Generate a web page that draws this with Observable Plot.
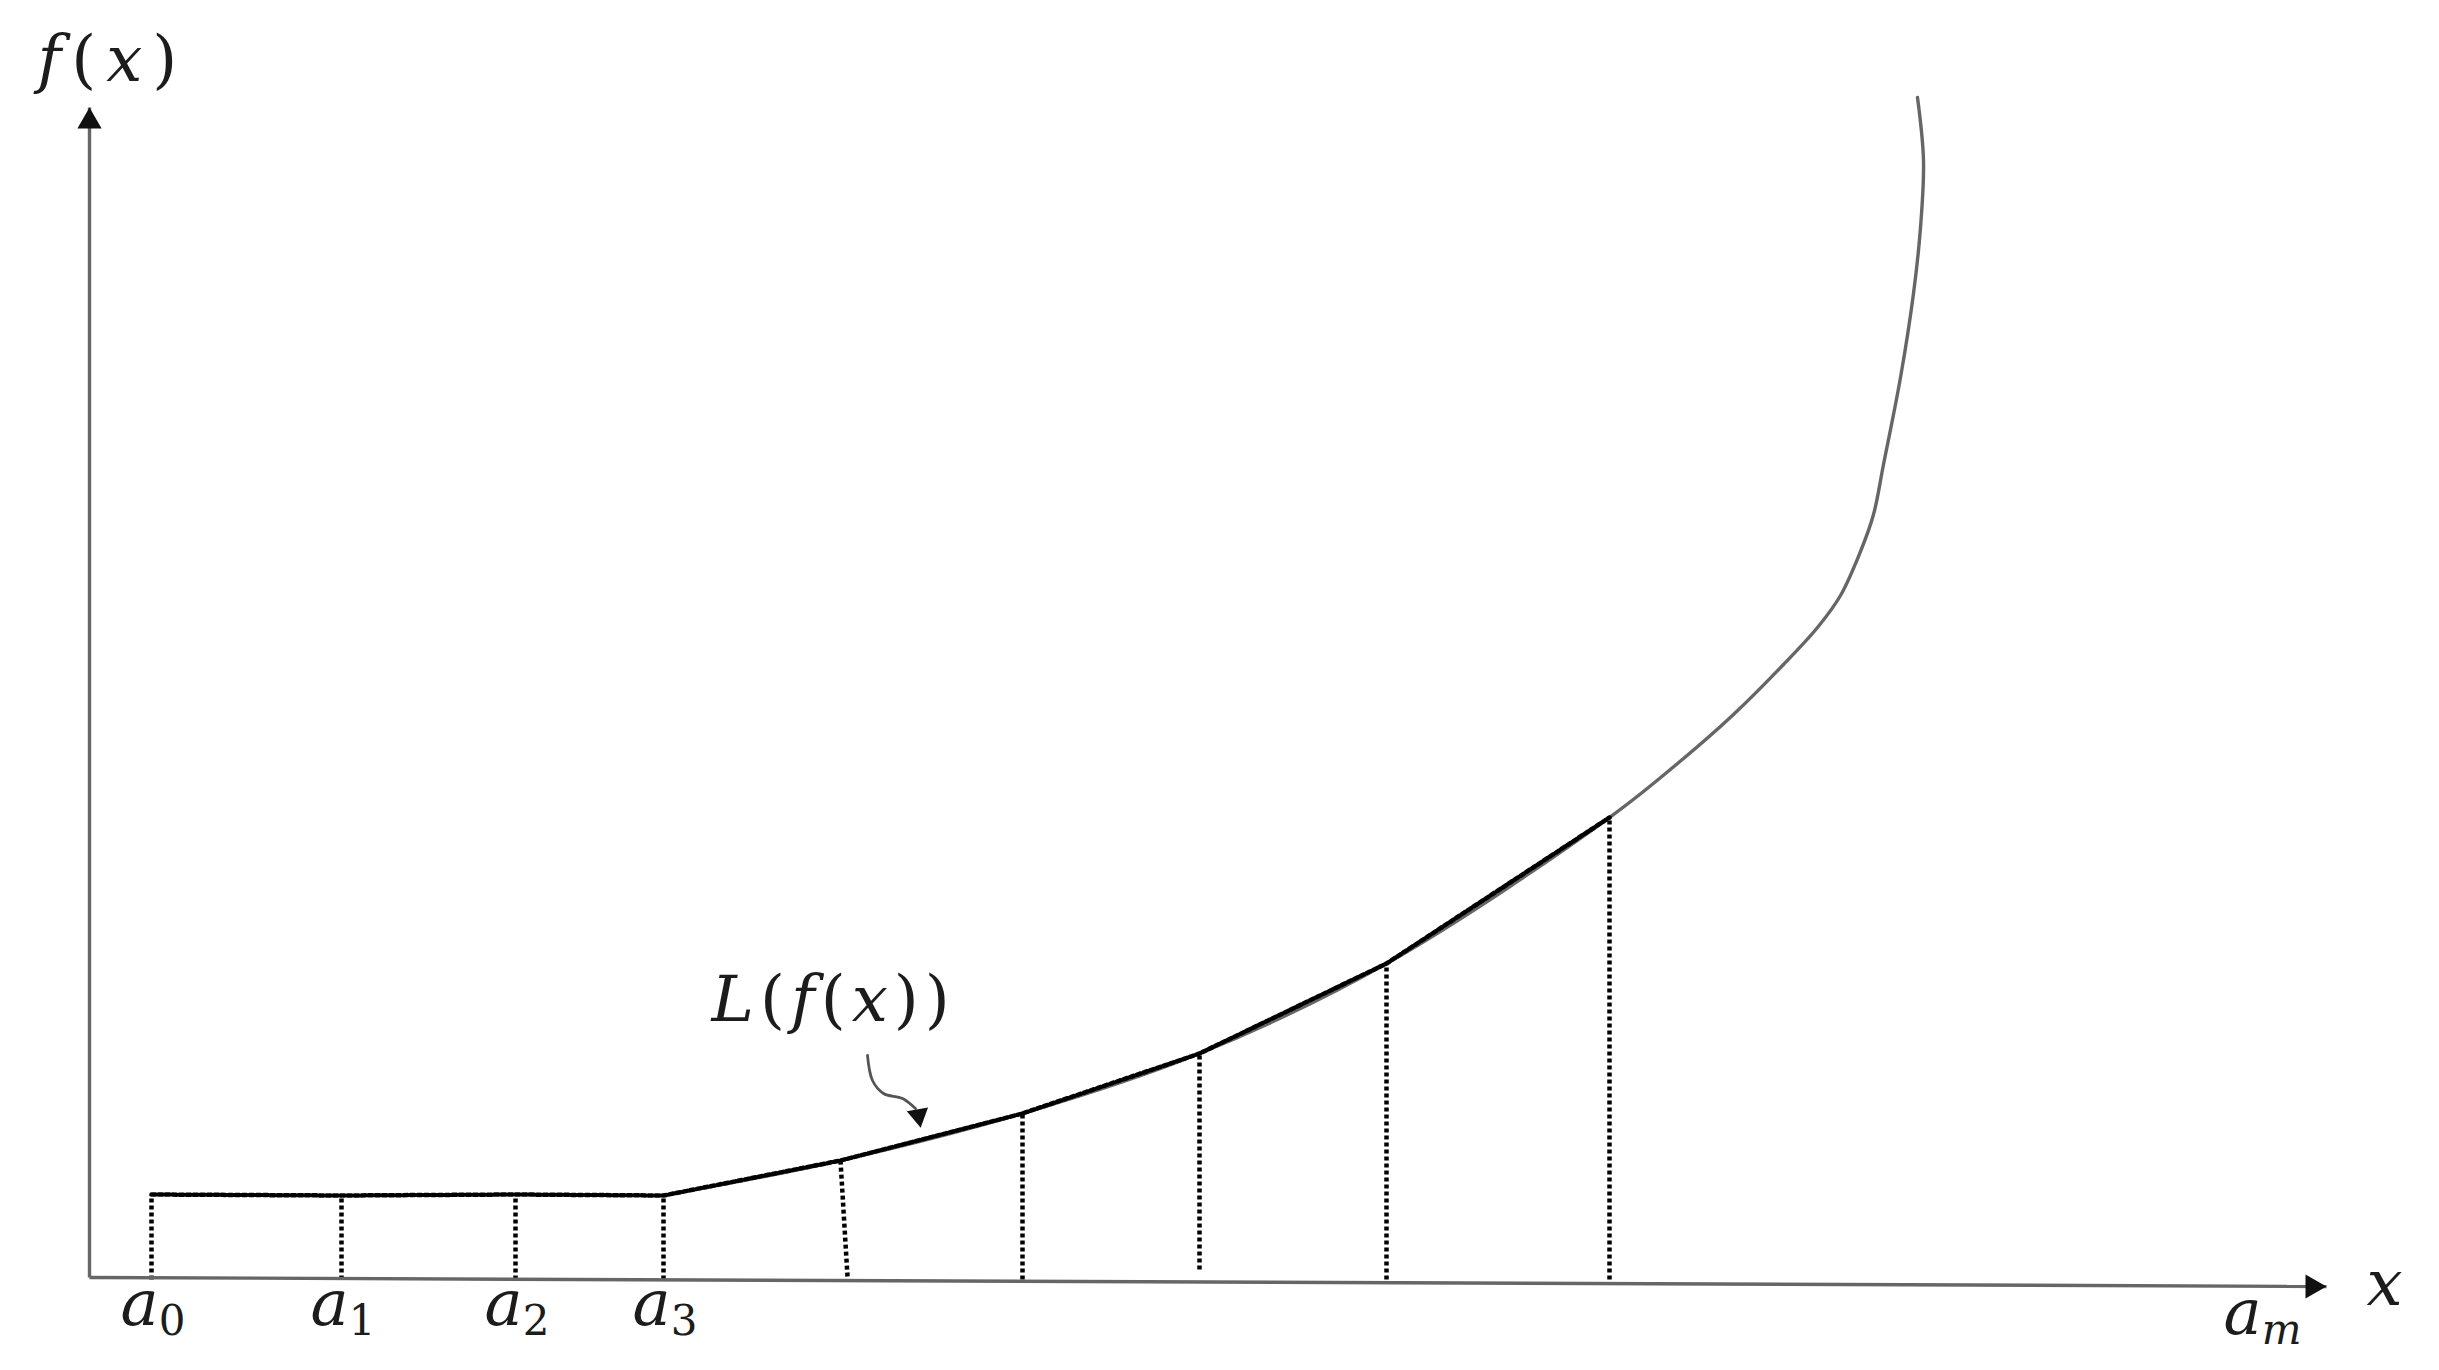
<!DOCTYPE html>
<html><head><meta charset="utf-8">
<script src="https://cdn.jsdelivr.net/npm/d3@7"></script>
<script src="https://cdn.jsdelivr.net/npm/@observablehq/plot@0.6"></script>
<style>
html,body{margin:0;padding:0;background:#fff;overflow:hidden}
svg text, svg tspan{font-family:"DejaVu Serif","Liberation Serif",serif !important}
</style>
</head><body><div id="chart"></div>
<script>
// Node positions (abstract units along x and f(x))
const nodeX = [62, 252, 426, 574, 751, 933, 1110, 1297, 1520];
const nodeY = [85, 84, 85, 84, 119, 166, 226, 316, 462];
// feet of the dotted drop lines
const dropX = [62, 252, 426, 574, 758, 933, 1110, 1297, 1520];
const dropY = [0, 0, 0, 0, 3, 0, 10, 0, 0];
// the smooth function f(x)
const curveX = [574, 751, 933, 1110, 1297, 1520, 1594, 1644, 1694, 1728, 1751, 1771, 1784, 1794, 1811, 1824, 1831, 1834, 1828];
const curveY = [84, 119, 166, 226, 316, 462, 521, 565, 615, 652, 684, 728, 765, 815, 902, 986, 1052, 1119, 1182];
// tick labels under the x axis
const tickX = [62, 252, 426, 574, 2165];
const tickY = [-45, -45, -45, -45, -54];
const tickLabels = ["a_0", "a_1", "a_2", "a_3", "a_m"];
// axes (start / end)
const axisX1 = [0, 0], axisY1 = [2, 2], axisX2 = [2237, 0], axisY2 = [-7, 1172];
// arrow heads (centre + rotation + size)
const headX = [2223, 0, 829], headY = [-7, 1158, 164], headRot = [90, 0, 170], headR = [9, 9, 8];
// curved pointer to L(f(x))
const pointerX = [778, 783, 794, 813, 826];
const pointerY = [224, 199, 186, 181, 171];
// free labels
const labelText = ["f(x)", "L(f(x))", "x"];
const labelX = [-52, 622, 2277];
const labelY = [1199, 259, -25];

const nodes = nodeX.map((x, i) => ({x, y: nodeY[i]}));
const drops = nodeX.map((x, i) => ({xt: x, yt: nodeY[i], xb: dropX[i], yb: dropY[i]}));
const curve = curveX.map((x, i) => ({x, y: curveY[i]}));
const ticks = tickX.map((x, i) => ({x, y: tickY[i], t: tickLabels[i]}));
const axes = axisX1.map((x, i) => ({x1: x, y1: axisY1[i], x2: axisX2[i], y2: axisY2[i]}));
const heads = headX.map((x, i) => ({x, y: headY[i], rot: headRot[i], r: headR[i]}));
const pointer = pointerX.map((x, i) => ({x, y: pointerY[i]}));
const labels = labelText.map((t, i) => ({t, x: labelX[i], y: labelY[i]}));

const ink = "#1c1c1c";
const serif = "DejaVu Serif";
const svg = Plot.plot({
  width: 2439, height: 1370,
  marginLeft: 89, marginRight: 110, marginTop: 107, marginBottom: 91,
  x: {domain: [0, 2240], axis: null},
  y: {domain: [0, 1172], axis: null},
  r: {type: "identity"},
  style: {background: "#fff", overflow: "visible"},
  marks: [
    Plot.link(drops, {x1: "xb", y1: "yb", x2: "xt", y2: "yt", stroke: "#000", strokeWidth: 4.5, strokeDasharray: "4 3"}),
    Plot.line(curve, {x: "x", y: "y", curve: "catmull-rom", stroke: "#666", strokeWidth: 3.4}),
    Plot.line(nodes, {x: "x", y: "y", stroke: "#000", strokeWidth: 4.5, strokeDasharray: "4 3"}),
    Plot.link(axes, {x1: "x1", y1: "y1", x2: "x2", y2: "y2", stroke: "#666", strokeWidth: 3.4}),
    Plot.line(pointer, {x: "x", y: "y", curve: "catmull-rom", stroke: "#555", strokeWidth: 2.8}),
    Plot.dot(heads, {x: "x", y: "y", r: "r", rotate: "rot", symbol: "triangle", fill: "#111", stroke: "none"}),
    Plot.text(ticks, {x: "x", y: "y", text: "t", textAnchor: "start", lineAnchor: "bottom", dx: -31, fontSize: 64, fontFamily: serif, fill: ink}),
    Plot.text(labels, {x: "x", y: "y", text: "t", textAnchor: "start", lineAnchor: "bottom", fontSize: 64, fontFamily: serif, fill: ink})
  ]
});
// typeset: italic letters, upright digits and parentheses, subscripts after "_"
d3.select(svg).selectAll("text").each(function () {
  const s = this.textContent;
  const el = d3.select(this);
  el.text(null).attr("font-family", serif);
  if (s === "f(x)") el.style("letter-spacing", "10px");
  else if (s.includes("(")) el.style("letter-spacing", "6px");
  for (let i = 0; i < s.length; i++) {
    const ch = s[i];
    if (ch === "_") {
      const c = s[i + 1];
      el.append("tspan").attr("dy", 10).attr("font-size", 42).attr("font-family", serif)
        .attr("font-style", /[A-Za-z]/.test(c) ? "italic" : "normal").text(c);
      i++;
      continue;
    }
    el.append("tspan").attr("font-family", serif)
      .attr("font-style", /[A-Za-z]/.test(ch) ? "italic" : "normal").text(ch);
  }
});
document.getElementById("chart").appendChild(svg);
</script>
</body></html>
